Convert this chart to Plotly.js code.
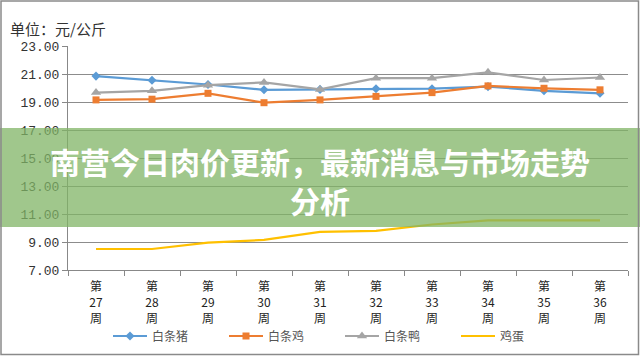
<!DOCTYPE html>
<html>
<head>
<meta charset="utf-8">
<script src="https://cdn.plot.ly/plotly-3.0.1.min.js"></script>
<style>
html,body{margin:0;padding:0;background:#fff;}
#chart{width:640px;height:356px;}
</style>
</head>
<body>
<div id="chart"></div>
<script>
const weeks = ["第27周","第28周","第29周","第30周","第31周","第32周","第33周","第34周","第35周","第36周"];
const weekTickText = weeks.map(w => w[0] + "<br>" + w.slice(1, -1) + "<br>" + w.slice(-1));
const seriesNames = ["白条猪","白条鸡","白条鸭","鸡蛋"];
const pork  = [20.85, 20.55, 20.25, 19.87, 19.90, 19.95, 19.95, 20.10, 19.80, 19.62];
const chicken = [19.15, 19.20, 19.62, 18.95, 19.15, 19.40, 19.67, 20.15, 19.98, 19.87];
const duck  = [19.67, 19.80, 20.20, 20.40, 19.90, 20.70, 20.70, 21.12, 20.57, 20.75];
const egg   = [8.50, 8.50, 8.95, 9.15, 9.72, 9.80, 10.25, 10.55, 10.55, 10.55];
const yTicks = [7, 9, 11, 13, 15, 17, 19, 21, 23];
const unitLabel = "单位：元/公斤";
const bannerText = "南营今日肉价更新，最新消息与市场走势<br>分析";

const colors = ["#5B9BD5", "#ED7D31", "#A5A5A5", "#FFC000"];
const symbols = ["diamond", "square", "triangle-up", null];
const values = [pork, chicken, duck, egg];

const traces = values.map((v, i) => {
  const t = {
    x: weeks, y: v, name: seriesNames[i], type: "scatter",
    mode: symbols[i] ? "lines+markers" : "lines",
    line: {color: colors[i], width: 2.2},
    hoverinfo: "skip"
  };
  if (symbols[i]) t.marker = {symbol: symbols[i], size: i === 2 ? 9 : 7, color: colors[i]};
  return t;
});

// pixel geometry of plot area
const L = 68, R = 628, T = 46, B = 270, W = 640, H = 356;
const px = x => (x - L) / (R - L);
const py = y => (B - y) / (B - T);

const layout = {
  width: W, height: H,
  margin: {l: L, r: W - R, t: T, b: H - B, pad: 0, autoexpand: false},
  paper_bgcolor: "#fff", plot_bgcolor: "#fff",
  font: {family: "Noto Sans CJK SC, sans-serif", color: "#333"},
  showlegend: true,
  legend: {
    orientation: "h", xref: "container", yref: "container",
    x: 108 / W, xanchor: "left", y: 1 - 336 / H, yanchor: "middle",
    font: {size: 12, color: "#555"}, entrywidth: 67, entrywidthmode: "pixels",
    itemwidth: 34, bgcolor: "rgba(0,0,0,0)"
  },
  xaxis: {
    type: "category", tickmode: "array", tickvals: weeks, ticktext: weekTickText,
    range: [-0.5, weeks.length - 0.5], automargin: false,
    showline: true, linecolor: "#888", linewidth: 1,
    ticks: "outside", tickson: "boundaries", ticklen: 5, tickcolor: "#888",
    ticklabelstandoff: 6,
    showgrid: false, tickangle: 0,
    tickfont: {size: 12, color: "#222", family: "Noto Sans CJK SC, sans-serif"}
  },
  yaxis: {
    range: [7, 23], tickmode: "array", tickvals: yTicks, tickformat: ".2f",
    automargin: false,
    showline: true, linecolor: "#888", linewidth: 1,
    ticks: "outside", ticklen: 5, tickcolor: "#888",
    showgrid: true, gridcolor: "#8c8c8c", gridwidth: 1, zeroline: false,
    tickfont: {size: 13, color: "#333", family: "Liberation Mono, monospace"}
  },
  shapes: [
    {type: "rect", xref: "paper", yref: "paper", layer: "above",
     x0: px(0), x1: px(W), y0: py(227), y1: py(128),
     fillcolor: "rgba(128,180,102,0.75)", line: {width: 0}},
    {type: "rect", xref: "paper", yref: "paper", layer: "above",
     x0: px(1), x1: px(638.5), y0: py(354.5), y1: py(1),
     fillcolor: "rgba(0,0,0,0)", line: {color: "#8a8a8a", width: 1.5}}
  ],
  annotations: [
    {text: unitLabel, xref: "paper", yref: "paper", x: px(8), y: py(28),
     xanchor: "left", yanchor: "middle", showarrow: false,
     font: {size: 15, color: "#333"}},
    {text: bannerText, xref: "paper", yref: "paper", x: px(320), y: py(180),
     xanchor: "center", yanchor: "middle", align: "center", showarrow: false,
     font: {size: 30, color: "#ffffff", family: "Noto Sans CJK SC, sans-serif", weight: 700}}
  ]
};

Plotly.newPlot("chart", traces, layout, {displayModeBar: false, staticPlot: true});
</script>
</body>
</html>
